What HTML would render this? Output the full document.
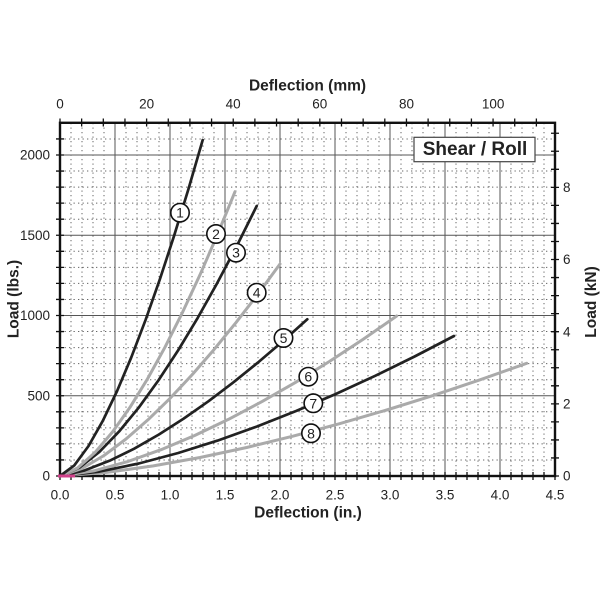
<!DOCTYPE html>
<html><head><meta charset="utf-8"><style>
html,body{margin:0;padding:0;background:#fff;}
svg{display:block;}
text{font-family:"Liberation Sans",Arial,sans-serif;fill:#222;}
</style></head><body>
<svg width="600" height="600" viewBox="0 0 600 600" xmlns="http://www.w3.org/2000/svg">
<rect width="600" height="600" fill="#fff"/>
<!-- dotted grid -->
<g stroke="#666" stroke-width="1" stroke-dasharray="1.3 3.2" fill="none">
<path d="M71 123V476M82 123V476M93 123V476M104 123V476M126 123V476M137 123V476M148 123V476M159 123V476M181 123V476M192 123V476M203 123V476M214 123V476M236 123V476M247 123V476M258 123V476M269 123V476M291 123V476M302 123V476M313 123V476M324 123V476M346 123V476M357 123V476M368 123V476M379 123V476M401 123V476M412 123V476M423 123V476M434 123V476M456 123V476M467 123V476M478 123V476M489 123V476M511 123V476M522 123V476M533 123V476M544 123V476"/>
<path d="M60 459.95H555M60 443.9H555M60 427.85H555M60 411.8H555M60 379.7H555M60 363.65H555M60 347.6H555M60 331.55H555M60 299.45H555M60 283.4H555M60 267.35H555M60 251.3H555M60 219.2H555M60 203.15H555M60 187.1H555M60 171.05H555M60 138.95H555"/>
</g>
<!-- solid grid -->
<g stroke="#555" stroke-width="1" fill="none">
<path d="M115 123V476M170 123V476M225 123V476M280 123V476M335 123V476M390 123V476M445 123V476M500 123V476"/>
<path d="M60 395.75H555M60 315.5H555M60 235.25H555M60 155H555"/>
</g>
<!-- ticks -->
<g stroke="#111" stroke-width="1.3" fill="none">
<path d="M60 472V480M71 472V480M82 472V480M93 472V480M104 472V480M115 472V480M126 472V480M137 472V480M148 472V480M159 472V480M170 472V480M181 472V480M192 472V480M203 472V480M214 472V480M225 472V480M236 472V480M247 472V480M258 472V480M269 472V480M280 472V480M291 472V480M302 472V480M313 472V480M324 472V480M335 472V480M346 472V480M357 472V480M368 472V480M379 472V480M390 472V480M401 472V480M412 472V480M423 472V480M434 472V480M445 472V480M456 472V480M467 472V480M478 472V480M489 472V480M500 472V480M511 472V480M522 472V480M533 472V480M544 472V480M555 472V480"/>
<path d="M56 476H64M56 459.95H64M56 443.9H64M56 427.85H64M56 411.8H64M56 395.75H64M56 379.7H64M56 363.65H64M56 347.6H64M56 331.55H64M56 315.5H64M56 299.45H64M56 283.4H64M56 267.35H64M56 251.3H64M56 235.25H64M56 219.2H64M56 203.15H64M56 187.1H64M56 171.05H64M56 155H64M56 138.95H64"/>
<path d="M60 118.5V126.5M81.65 118.5V126.5M103.31 118.5V126.5M124.96 118.5V126.5M146.61 118.5V126.5M168.27 118.5V126.5M189.92 118.5V126.5M211.57 118.5V126.5M233.23 118.5V126.5M254.88 118.5V126.5M276.54 118.5V126.5M298.19 118.5V126.5M319.84 118.5V126.5M341.5 118.5V126.5M363.15 118.5V126.5M384.8 118.5V126.5M406.46 118.5V126.5M428.11 118.5V126.5M449.76 118.5V126.5M471.42 118.5V126.5M493.07 118.5V126.5M514.72 118.5V126.5M536.38 118.5V126.5"/>
<path d="M551 476H559M551 457.96H559M551 439.92H559M551 421.88H559M551 403.84H559M551 385.8H559M551 367.76H559M551 349.72H559M551 331.68H559M551 313.64H559M551 295.6H559M551 277.56H559M551 259.52H559M551 241.48H559M551 223.44H559M551 205.4H559M551 187.36H559M551 169.32H559M551 151.28H559M551 133.24H559"/>
</g>
<!-- frame -->
<rect x="60" y="122.8" width="495" height="353.2" fill="none" stroke="#111" stroke-width="2.4"/>
<!-- curves -->
<g fill="none" stroke-width="3" stroke-linejoin="round" stroke-linecap="round">
<polyline stroke="#aaa" points="60,476 106.67,472.4 153.34,465.9 200.01,457.5 246.68,447.5 293.35,436.1 340.02,423.6 386.69,410 433.36,395.4 480.03,379.8 526.7,363.3"/>
<polyline stroke="#222" stroke-width="2.7" points="60,476 99.4,471.6 138.8,463.5 178.2,453 217.6,440.6 257,426.5 296.4,410.9 335.8,394 375.2,375.8 414.6,356.5 454,336"/>
<polyline stroke="#aaa" points="60,476 93.67,470.9 127.34,461.7 161.01,449.7 194.68,435.5 228.35,419.4 262.02,401.6 295.69,382.3 329.36,361.5 363.03,339.4 396.7,316"/>
<polyline stroke="#222" stroke-width="2.7" points="60,476 84.73,470.4 109.46,460.8 134.19,448.7 158.92,434.5 183.65,418.6 208.38,401.3 233.11,382.6 257.84,362.6 282.57,341.5 307.3,319.3"/>
<polyline stroke="#aaa" points="60,476 82,468.5 104,455.5 126,439 148,419.8 170,398.4 192,374.9 214,349.6 236,322.6 258,294 280,264"/>
<polyline stroke="#222" stroke-width="2.7" points="60,476 79.67,467.5 99.34,451.9 119.01,431.6 138.68,407.7 158.35,380.5 178.02,350.5 197.69,317.9 217.36,282.8 237.03,245.5 256.7,206"/>
<polyline stroke="#aaa" points="60,476 77.5,468 95,452.5 112.5,432 130,407.3 147.5,378.9 165,347.2 182.5,312.4 200,274.8 217.5,234.5 235,191.7"/>
<polyline stroke="#222" stroke-width="2.7" points="60,476 74.27,465.4 88.54,446 102.81,420.8 117.08,391 131.35,357.2 145.62,319.8 159.89,279.2 174.16,235.6 188.43,189.1 202.7,140"/>
</g>
<line x1="58" y1="476" x2="75" y2="476" stroke="#d0408a" stroke-width="3"/>
<!-- circle labels -->
<g fill="#fff" stroke="#111" stroke-width="1.6">
<circle cx="180" cy="212.7" r="9.2"/>
<circle cx="216" cy="234" r="9.2"/>
<circle cx="236" cy="252.7" r="9.2"/>
<circle cx="256.7" cy="292.7" r="9.2"/>
<circle cx="283.5" cy="338" r="9.2"/>
<circle cx="308.3" cy="376.7" r="9.2"/>
<circle cx="313.3" cy="403.3" r="9.2"/>
<circle cx="311" cy="433.3" r="9.2"/>
</g>
<g font-size="14" text-anchor="middle">
<text x="180" y="217.7">1</text>
<text x="216" y="239">2</text>
<text x="236" y="257.7">3</text>
<text x="256.7" y="297.7">4</text>
<text x="283.5" y="343">5</text>
<text x="308.3" y="381.7">6</text>
<text x="313.3" y="408.3">7</text>
<text x="311" y="438.3">8</text>
</g>
<!-- legend -->
<rect x="414" y="137.3" width="121" height="24.4" fill="#fff" stroke="#444" stroke-width="1.2"/>
<text x="475" y="155" font-size="19" font-weight="bold" text-anchor="middle">Shear / Roll</text>
<!-- tick labels -->
<g font-size="13.5" text-anchor="end">
<text x="50" y="480.7">0</text>
<text x="50" y="400.45">500</text>
<text x="50" y="320.2">1000</text>
<text x="50" y="239.95">1500</text>
<text x="50" y="159.7">2000</text>
</g>
<g font-size="13.5" text-anchor="start">
<text x="563" y="480.7">0</text>
<text x="563" y="408.5">2</text>
<text x="563" y="336.4">4</text>
<text x="563" y="264.2">6</text>
<text x="563" y="192.1">8</text>
</g>
<g font-size="13.5" text-anchor="middle">
<text x="60" y="499.5">0.0</text>
<text x="115" y="499.5">0.5</text>
<text x="170" y="499.5">1.0</text>
<text x="225" y="499.5">1.5</text>
<text x="280" y="499.5">2.0</text>
<text x="335" y="499.5">2.5</text>
<text x="390" y="499.5">3.0</text>
<text x="445" y="499.5">3.5</text>
<text x="500" y="499.5">4.0</text>
<text x="555" y="499.5">4.5</text>
</g>
<g font-size="13.5" text-anchor="middle">
<text x="60" y="108.3">0</text>
<text x="146.6" y="108.3">20</text>
<text x="233.2" y="108.3">40</text>
<text x="319.8" y="108.3">60</text>
<text x="406.5" y="108.3">80</text>
<text x="493.1" y="108.3">100</text>
</g>
<!-- axis titles -->
<g font-size="15.5" font-weight="bold" text-anchor="middle">
<text x="307.5" y="90.5">Deflection (mm)</text>
<text x="308" y="517.5">Deflection (in.)</text>
<text transform="translate(18.5,299) rotate(-90)">Load (lbs.)</text>
<text transform="translate(596,302) rotate(-90)">Load (kN)</text>
</g>
</svg>
</body></html>
